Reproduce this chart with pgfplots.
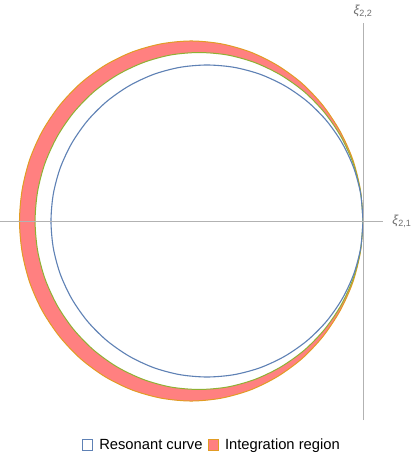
\documentclass[border=0pt]{standalone}
\usepackage{fontspec}
\setmainfont{Liberation Sans}
\usepackage{pgfplots}
\pgfplotsset{compat=1.18}
\definecolor{mmblue}{RGB}{94,129,181}
\definecolor{mmorange}{RGB}{225,156,36}
\definecolor{mmgreen}{RGB}{143,176,50}
\definecolor{regionred}{RGB}{255,128,128}
\definecolor{axisgray}{RGB}{178,178,178}
\definecolor{labelgray}{RGB}{110,110,110}
\begin{document}
\begin{tikzpicture}
\useasboundingbox (-363bp,-239bp) rectangle (52bp,221bp);
\begin{axis}[
    anchor=origin, at={(0,0)},
    x=156bp, y=156bp,
    xmin=-2.327, xmax=0.128,
    ymin=-1.276, ymax=1.269,
    axis lines=middle,
    axis line style={axisgray, line width=0.8bp, -},
    ticks=none,
    axis on top,
    clip=false,
    xlabel={\textcolor{labelgray}{\itshape ξ}\textcolor{labelgray}{\textsubscript{2,1}}},
    ylabel={\textcolor{labelgray}{\itshape ξ}\textcolor{labelgray}{\textsubscript{2,2}}},
    xlabel style={at={(ticklabel* cs:1)}, anchor=west, xshift=6bp, font=\fontsize{13}{15}\selectfont},
    ylabel style={at={(ticklabel* cs:1)}, anchor=south, yshift=2bp, font=\fontsize{13}{15}\selectfont},
    legend columns=-1,
    legend style={at={(0.553,-0.063)}, anchor=center, draw=none, fill=none,
        font=\fontsize{14.8}{17}\selectfont,
        /tikz/every odd column/.append style={column sep=4bp},
        /tikz/every even column/.append style={column sep=3bp}},
]
% legend entries
\addlegendimage{legend image code/.code={\draw[mmblue, line width=1bp, fill=white] (0bp,-5.2bp) rectangle (10.5bp,5.2bp);}}
\addlegendentry{Resonant curve}
\addlegendimage{legend image code/.code={\draw[mmorange, line width=1bp, fill=regionred] (0bp,-5.2bp) rectangle (10.5bp,5.2bp);}}
\addlegendentry{Integration region}

% outer boundary of the integration region
\addplot[forget plot, smooth, draw=mmorange, line width=1bp, fill=regionred] coordinates {
(0,0) (-0.017,0.200) (-0.066,0.395) (-0.148,0.577) (-0.258,0.742) (-0.393,0.884)
(-0.551,0.999) (-0.724,1.084) (-0.910,1.136) (-1.101,1.154) (-1.292,1.136) (-1.478,1.084)
(-1.652,0.999) (-1.809,0.884) (-1.944,0.742) (-2.055,0.577) (-2.136,0.395) (-2.185,0.200)
(-2.202,0) (-2.185,-0.200) (-2.136,-0.395) (-2.055,-0.577) (-1.944,-0.742) (-1.809,-0.884)
(-1.652,-0.999) (-1.478,-1.084) (-1.292,-1.136) (-1.101,-1.154) (-0.910,-1.136) (-0.724,-1.084)
(-0.551,-0.999) (-0.393,-0.884) (-0.258,-0.742) (-0.148,-0.577) (-0.066,-0.395) (-0.017,-0.200)
(0,0)
} -- cycle;

% inner boundary of the integration region
\addplot[forget plot, smooth, draw=mmgreen, line width=1bp, fill=white] coordinates {
(0,0) (-0.016,0.188) (-0.063,0.369) (-0.141,0.540) (-0.246,0.694) (-0.375,0.827)
(-0.526,0.935) (-0.692,1.015) (-0.868,1.064) (-1.051,1.080) (-1.234,1.064) (-1.410,1.015)
(-1.577,0.935) (-1.727,0.827) (-1.856,0.694) (-1.961,0.540) (-2.039,0.369) (-2.086,0.188)
(-2.102,0) (-2.086,-0.188) (-2.039,-0.369) (-1.961,-0.540) (-1.856,-0.694) (-1.727,-0.827)
(-1.577,-0.935) (-1.410,-1.015) (-1.234,-1.064) (-1.051,-1.080) (-0.868,-1.064) (-0.692,-1.015)
(-0.526,-0.935) (-0.375,-0.827) (-0.246,-0.694) (-0.141,-0.540) (-0.063,-0.369) (-0.016,-0.188)
(0,0)
} -- cycle;

% resonant curve
\addplot[forget plot, smooth, draw=mmblue, line width=1.1bp] coordinates {
(0,0) (-0.015,0.174) (-0.060,0.342) (-0.134,0.500) (-0.234,0.643) (-0.357,0.766)
(-0.500,0.866) (-0.658,0.940) (-0.826,0.985) (-1.000,1.000) (-1.174,0.985) (-1.342,0.940)
(-1.500,0.866) (-1.643,0.766) (-1.766,0.643) (-1.866,0.500) (-1.940,0.342) (-1.985,0.174)
(-2.000,0) (-1.985,-0.174) (-1.940,-0.342) (-1.866,-0.500) (-1.766,-0.643) (-1.643,-0.766)
(-1.500,-0.866) (-1.342,-0.940) (-1.174,-0.985) (-1.000,-1.000) (-0.826,-0.985) (-0.658,-0.940)
(-0.500,-0.866) (-0.357,-0.766) (-0.234,-0.643) (-0.134,-0.500) (-0.060,-0.342) (-0.015,-0.174)
(0,0)
} -- cycle;
\end{axis}
\end{tikzpicture}
\end{document}
